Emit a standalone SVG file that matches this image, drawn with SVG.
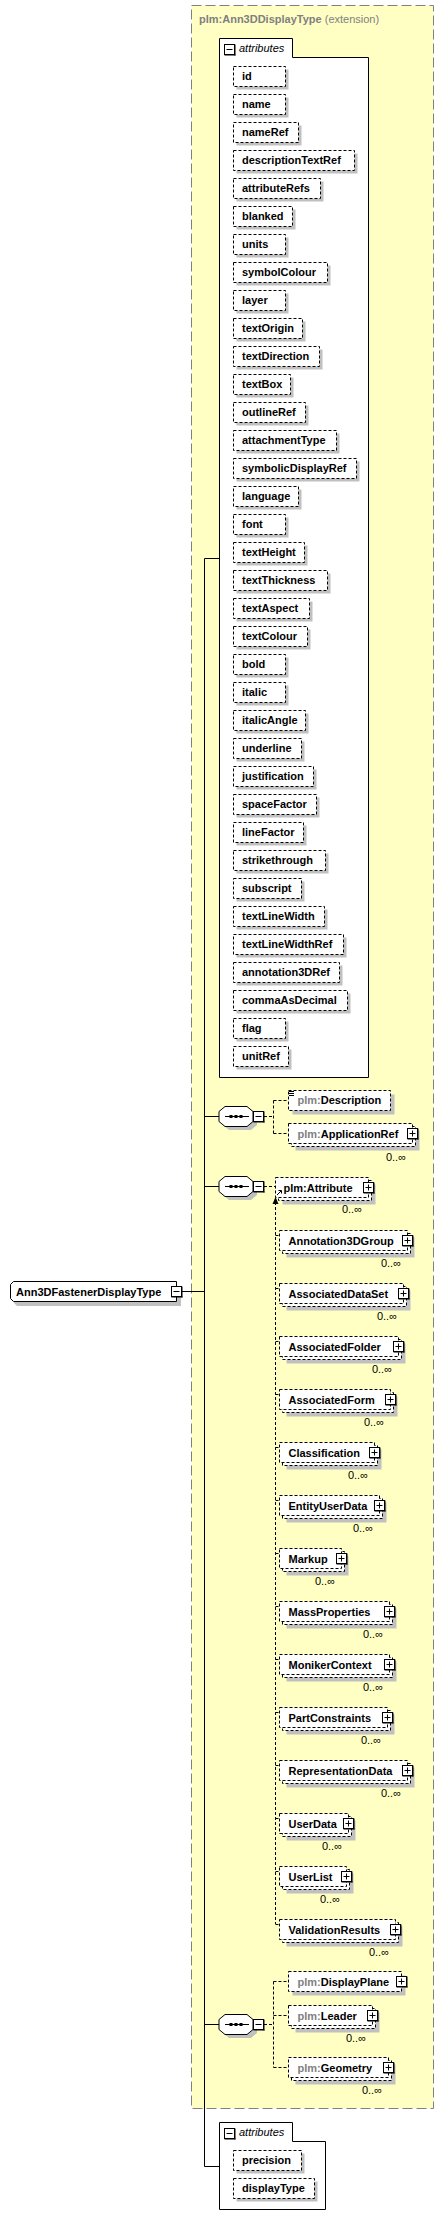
<svg xmlns="http://www.w3.org/2000/svg" width="444" height="2227" viewBox="0 0 444 2227">
<style>
text{font-family:"Liberation Sans",Arial,sans-serif;font-size:11px;fill:#000}
.b{font-weight:bold}
.gp{fill:#808080}
.ti{font-style:italic;font-weight:normal}
.occ{font-weight:normal}
.sh{fill:#c0c0c0;stroke:none}
.dbox{fill:#fff;stroke:#000;stroke-width:1;stroke-dasharray:3,2}
.sbox{fill:#fff;stroke:#000;stroke-width:1}
.ln{stroke:#000;stroke-width:1;fill:none}
.dl{stroke:#000;stroke-width:1;fill:none;stroke-dasharray:3,2}
.ext{fill:#ffffc4;stroke:#808080;stroke-width:1;stroke-dasharray:10,4}
</style>
<defs>
<g id="plus"><rect x="-5" y="-5" width="10" height="10" fill="#fff" stroke="#000"/><path d="M-5,5.5H6M5.5,-5V6" stroke="#000" stroke-width="1"/><path d="M-3,0H3M0,-3V3" stroke="#000"/></g>
<g id="minus"><rect x="-5" y="-5" width="10" height="10" fill="#fff" stroke="#000"/><path d="M-5,5.5H6M5.5,-5V6" stroke="#000" stroke-width="1"/><path d="M-3,0H3" stroke="#000"/></g>
</defs>

<rect id="ext-box" class="ext" x="191.5" y="5.5" width="242" height="2103"/>
<text x="199" y="23" class="b gp">plm:Ann3DDisplayType<tspan class="occ"> (extension)</tspan></text>

<g id="connectors">
<path class="ln" d="M182,1291.5H204.5M204.5,558.5V2166.5M204.5,558.5H219.5M204.5,1116.5H219M204.5,1186.5H219M204.5,2024.5H219M204.5,2166.5H219.5"/>
<path class="dl" d="M264,1116.5H273.5M273.5,1100.5V1133.5M273.5,1100.5H288.5M273.5,1133.5H288.5"/>
<path class="dl" d="M264,1186.5H275.5"/>
<path class="dl" d="M275.5,1202V1924"/>
<path d="M272.5,1204L275.5,1197L278.5,1204Z" fill="#000"/>
<path class="dl" d="M275.5,1235.5H279.5M275.5,1288.5H279.5M275.5,1341.5H279.5M275.5,1394.5H279.5M275.5,1447.5H279.5M275.5,1500.5H279.5M275.5,1553.5H279.5M275.5,1606.5H279.5M275.5,1659.5H279.5M275.5,1712.5H279.5M275.5,1765.5H279.5M275.5,1818.5H279.5M275.5,1871.5H279.5M275.5,1924.5H279.5"/>
<path class="dl" d="M264,2024.5H273.5M273.5,1981.5V2067.5M273.5,1981.5H288.5M273.5,2015.5H288.5M273.5,2067.5H288.5"/>
</g>

<g id="root">
<polygon class="sh" points="17,1286 181,1286 181,1306 17,1306 14,1303 14,1289"/>
<polygon class="sbox" points="13.5,1281.5 176.5,1281.5 176.5,1301.5 13.5,1301.5 10.5,1298.5 10.5,1284.5"/>
<text x="16" y="1295.5" class="b">Ann3DFastenerDisplayType</text>
<use href="#minus" x="176.5" y="1291.5"/>
</g>

<g id="attributes-top">
<path class="sbox" d="M219.5,38.5H292.5V57.5H368.5V1077.5H219.5Z"/>
<use href="#minus" x="229.5" y="49.5"/>
<text x="239" y="52" class="ti">attributes</text>
</g>

<g id="attr-list" class="b">
<g id="a-id"><rect class="sh" x="236.5" y="69.5" width="52" height="20"/><rect class="dbox" x="233.5" y="66.5" width="52" height="20"/><text x="242" y="80">id</text></g>
<g id="a-name"><rect class="sh" x="236.5" y="97.5" width="52" height="20"/><rect class="dbox" x="233.5" y="94.5" width="52" height="20"/><text x="242" y="108">name</text></g>
<g id="a-nameRef"><rect class="sh" x="236.5" y="125.5" width="65" height="20"/><rect class="dbox" x="233.5" y="122.5" width="65" height="20"/><text x="242" y="136">nameRef</text></g>
<g id="a-descriptionTextRef"><rect class="sh" x="236.5" y="153.5" width="121" height="20"/><rect class="dbox" x="233.5" y="150.5" width="121" height="20"/><text x="242" y="164">descriptionTextRef</text></g>
<g id="a-attributeRefs"><rect class="sh" x="236.5" y="181.5" width="87" height="20"/><rect class="dbox" x="233.5" y="178.5" width="87" height="20"/><text x="242" y="192">attributeRefs</text></g>
<g id="a-blanked"><rect class="sh" x="236.5" y="209.5" width="59" height="20"/><rect class="dbox" x="233.5" y="206.5" width="59" height="20"/><text x="242" y="220">blanked</text></g>
<g id="a-units"><rect class="sh" x="236.5" y="237.5" width="52" height="20"/><rect class="dbox" x="233.5" y="234.5" width="52" height="20"/><text x="242" y="248">units</text></g>
<g id="a-symbolColour"><rect class="sh" x="236.5" y="265.5" width="94" height="20"/><rect class="dbox" x="233.5" y="262.5" width="94" height="20"/><text x="242" y="276">symbolColour</text></g>
<g id="a-layer"><rect class="sh" x="236.5" y="293.5" width="52" height="20"/><rect class="dbox" x="233.5" y="290.5" width="52" height="20"/><text x="242" y="304">layer</text></g>
<g id="a-textOrigin"><rect class="sh" x="236.5" y="321.5" width="69" height="20"/><rect class="dbox" x="233.5" y="318.5" width="69" height="20"/><text x="242" y="332">textOrigin</text></g>
<g id="a-textDirection"><rect class="sh" x="236.5" y="349.5" width="86" height="20"/><rect class="dbox" x="233.5" y="346.5" width="86" height="20"/><text x="242" y="360">textDirection</text></g>
<g id="a-textBox"><rect class="sh" x="236.5" y="377.5" width="57" height="20"/><rect class="dbox" x="233.5" y="374.5" width="57" height="20"/><text x="242" y="388">textBox</text></g>
<g id="a-outlineRef"><rect class="sh" x="236.5" y="405.5" width="72" height="20"/><rect class="dbox" x="233.5" y="402.5" width="72" height="20"/><text x="242" y="416">outlineRef</text></g>
<g id="a-attachmentType"><rect class="sh" x="236.5" y="433.5" width="103" height="20"/><rect class="dbox" x="233.5" y="430.5" width="103" height="20"/><text x="242" y="444">attachmentType</text></g>
<g id="a-symbolicDisplayRef"><rect class="sh" x="236.5" y="461.5" width="123" height="20"/><rect class="dbox" x="233.5" y="458.5" width="123" height="20"/><text x="242" y="472">symbolicDisplayRef</text></g>
<g id="a-language"><rect class="sh" x="236.5" y="489.5" width="65" height="20"/><rect class="dbox" x="233.5" y="486.5" width="65" height="20"/><text x="242" y="500">language</text></g>
<g id="a-font"><rect class="sh" x="236.5" y="517.5" width="52" height="20"/><rect class="dbox" x="233.5" y="514.5" width="52" height="20"/><text x="242" y="528">font</text></g>
<g id="a-textHeight"><rect class="sh" x="236.5" y="545.5" width="71" height="20"/><rect class="dbox" x="233.5" y="542.5" width="71" height="20"/><text x="242" y="556">textHeight</text></g>
<g id="a-textThickness"><rect class="sh" x="236.5" y="573.5" width="94" height="20"/><rect class="dbox" x="233.5" y="570.5" width="94" height="20"/><text x="242" y="584">textThickness</text></g>
<g id="a-textAspect"><rect class="sh" x="236.5" y="601.5" width="76" height="20"/><rect class="dbox" x="233.5" y="598.5" width="76" height="20"/><text x="242" y="612">textAspect</text></g>
<g id="a-textColour"><rect class="sh" x="236.5" y="629.5" width="74" height="20"/><rect class="dbox" x="233.5" y="626.5" width="74" height="20"/><text x="242" y="640">textColour</text></g>
<g id="a-bold"><rect class="sh" x="236.5" y="657.5" width="52" height="20"/><rect class="dbox" x="233.5" y="654.5" width="52" height="20"/><text x="242" y="668">bold</text></g>
<g id="a-italic"><rect class="sh" x="236.5" y="685.5" width="52" height="20"/><rect class="dbox" x="233.5" y="682.5" width="52" height="20"/><text x="242" y="696">italic</text></g>
<g id="a-italicAngle"><rect class="sh" x="236.5" y="713.5" width="72" height="20"/><rect class="dbox" x="233.5" y="710.5" width="72" height="20"/><text x="242" y="724">italicAngle</text></g>
<g id="a-underline"><rect class="sh" x="236.5" y="741.5" width="68" height="20"/><rect class="dbox" x="233.5" y="738.5" width="68" height="20"/><text x="242" y="752">underline</text></g>
<g id="a-justification"><rect class="sh" x="236.5" y="769.5" width="80" height="20"/><rect class="dbox" x="233.5" y="766.5" width="80" height="20"/><text x="242" y="780">justification</text></g>
<g id="a-spaceFactor"><rect class="sh" x="236.5" y="797.5" width="83" height="20"/><rect class="dbox" x="233.5" y="794.5" width="83" height="20"/><text x="242" y="808">spaceFactor</text></g>
<g id="a-lineFactor"><rect class="sh" x="236.5" y="825.5" width="70" height="20"/><rect class="dbox" x="233.5" y="822.5" width="70" height="20"/><text x="242" y="836">lineFactor</text></g>
<g id="a-strikethrough"><rect class="sh" x="236.5" y="853.5" width="92" height="20"/><rect class="dbox" x="233.5" y="850.5" width="92" height="20"/><text x="242" y="864">strikethrough</text></g>
<g id="a-subscript"><rect class="sh" x="236.5" y="881.5" width="68" height="20"/><rect class="dbox" x="233.5" y="878.5" width="68" height="20"/><text x="242" y="892">subscript</text></g>
<g id="a-textLineWidth"><rect class="sh" x="236.5" y="909.5" width="91" height="20"/><rect class="dbox" x="233.5" y="906.5" width="91" height="20"/><text x="242" y="920">textLineWidth</text></g>
<g id="a-textLineWidthRef"><rect class="sh" x="236.5" y="937.5" width="110" height="20"/><rect class="dbox" x="233.5" y="934.5" width="110" height="20"/><text x="242" y="948">textLineWidthRef</text></g>
<g id="a-annotation3DRef"><rect class="sh" x="236.5" y="965.5" width="106" height="20"/><rect class="dbox" x="233.5" y="962.5" width="106" height="20"/><text x="242" y="976">annotation3DRef</text></g>
<g id="a-commaAsDecimal"><rect class="sh" x="236.5" y="993.5" width="114" height="20"/><rect class="dbox" x="233.5" y="990.5" width="114" height="20"/><text x="242" y="1004">commaAsDecimal</text></g>
<g id="a-flag"><rect class="sh" x="236.5" y="1021.5" width="52" height="20"/><rect class="dbox" x="233.5" y="1018.5" width="52" height="20"/><text x="242" y="1032">flag</text></g>
<g id="a-unitRef"><rect class="sh" x="236.5" y="1049.5" width="55" height="20"/><rect class="dbox" x="233.5" y="1046.5" width="55" height="20"/><text x="242" y="1060">unitRef</text></g>
</g>

<g id="seq1">
<polygon class="sh" points="229,1110 251,1110 257,1115 257,1125 251,1130 229,1130 223,1125 223,1115"/>
<polygon class="sbox" points="225,1106.5 247,1106.5 253,1111.5 253,1121.5 247,1126.5 225,1126.5 219,1121.5 219,1111.5"/>
<path class="ln" d="M225,1116.5H249"/><rect x="229.5" y="1115" width="3" height="3"/><rect x="234.5" y="1115" width="3" height="3"/><rect x="239.5" y="1115" width="3" height="3"/>
<use href="#minus" x="258.5" y="1116.5"/>
</g>
<g id="e-Description" class="b">
<rect class="sh" x="292.5" y="1094.5" width="102" height="20"/><rect class="dbox" x="288.5" y="1090.5" width="102" height="20"/>
<path class="ln" d="M289,1091.5H294M289,1093.5H294M289,1095.5H294"/>
<text x="297.5" y="1104"><tspan class="gp">plm:</tspan>Description</text>
</g>
<g id="e-ApplicationRef" class="b">
<rect class="sh" x="295.5" y="1130.5" width="124" height="20"/><rect class="dbox" x="291.5" y="1126.5" width="124" height="20"/><rect class="dbox" x="288.5" y="1123.5" width="124" height="20"/>
<text x="297.5" y="1137.5"><tspan class="gp">plm:</tspan>ApplicationRef</text>
<use href="#plus" x="412.5" y="1133.5"/>
<text x="406" y="1160.5" class="occ" text-anchor="end">0..∞</text>
</g>

<g id="seq2">
<polygon class="sh" points="229,1180 251,1180 257,1185 257,1195 251,1200 229,1200 223,1195 223,1185"/>
<polygon class="sbox" points="225,1176.5 247,1176.5 253,1181.5 253,1191.5 247,1196.5 225,1196.5 219,1191.5 219,1181.5"/>
<path class="ln" d="M225,1186.5H249"/><rect x="229.5" y="1185" width="3" height="3"/><rect x="234.5" y="1185" width="3" height="3"/><rect x="239.5" y="1185" width="3" height="3"/>
<use href="#minus" x="258.5" y="1186.5"/>
</g>
<g id="e-Attribute" class="b">
<rect class="sh" x="282.5" y="1184.5" width="93" height="20"/><rect class="dbox" x="278.5" y="1180.5" width="93" height="20"/><rect class="dbox" x="275.5" y="1177.5" width="93" height="20"/>
<path d="M277,1195L281,1191M278.5,1190.5H281.5V1193.5" stroke="#000" fill="none"/>
<text x="283.5" y="1191.5">plm:Attribute</text>
<use href="#plus" x="368.5" y="1187.5"/>
<text x="362" y="1213" class="occ" text-anchor="end">0..∞</text>
</g>

<g id="substitution-members" class="b">
<g id="m-Annotation3DGroup"><rect class="sh" x="286.5" y="1237.5" width="128" height="20"/><rect class="dbox" x="282.5" y="1233.5" width="128" height="20"/><rect class="dbox" x="279.5" y="1230.5" width="128" height="20"/><text x="288.5" y="1244.5">Annotation3DGroup</text><use href="#plus" x="407.5" y="1240.5"/><text x="401" y="1266.5" class="occ" text-anchor="end">0..∞</text></g>
<g id="m-AssociatedDataSet"><rect class="sh" x="286.5" y="1290.5" width="124" height="20"/><rect class="dbox" x="282.5" y="1286.5" width="124" height="20"/><rect class="dbox" x="279.5" y="1283.5" width="124" height="20"/><text x="288.5" y="1297.5">AssociatedDataSet</text><use href="#plus" x="403.5" y="1293.5"/><text x="397" y="1319.5" class="occ" text-anchor="end">0..∞</text></g>
<g id="m-AssociatedFolder"><rect class="sh" x="286.5" y="1343.5" width="119" height="20"/><rect class="dbox" x="282.5" y="1339.5" width="119" height="20"/><rect class="dbox" x="279.5" y="1336.5" width="119" height="20"/><text x="288.5" y="1350.5">AssociatedFolder</text><use href="#plus" x="398.5" y="1346.5"/><text x="392" y="1372.5" class="occ" text-anchor="end">0..∞</text></g>
<g id="m-AssociatedForm"><rect class="sh" x="286.5" y="1396.5" width="111" height="20"/><rect class="dbox" x="282.5" y="1392.5" width="111" height="20"/><rect class="dbox" x="279.5" y="1389.5" width="111" height="20"/><text x="288.5" y="1403.5">AssociatedForm</text><use href="#plus" x="390.5" y="1399.5"/><text x="384" y="1425.5" class="occ" text-anchor="end">0..∞</text></g>
<g id="m-Classification"><rect class="sh" x="286.5" y="1449.5" width="95" height="20"/><rect class="dbox" x="282.5" y="1445.5" width="95" height="20"/><rect class="dbox" x="279.5" y="1442.5" width="95" height="20"/><text x="288.5" y="1456.5">Classification</text><use href="#plus" x="374.5" y="1452.5"/><text x="368" y="1478.5" class="occ" text-anchor="end">0..∞</text></g>
<g id="m-EntityUserData"><rect class="sh" x="286.5" y="1502.5" width="100" height="20"/><rect class="dbox" x="282.5" y="1498.5" width="100" height="20"/><rect class="dbox" x="279.5" y="1495.5" width="100" height="20"/><text x="288.5" y="1509.5">EntityUserData</text><use href="#plus" x="379.5" y="1505.5"/><text x="373" y="1531.5" class="occ" text-anchor="end">0..∞</text></g>
<g id="m-Markup"><rect class="sh" x="286.5" y="1555.5" width="62" height="20"/><rect class="dbox" x="282.5" y="1551.5" width="62" height="20"/><rect class="dbox" x="279.5" y="1548.5" width="62" height="20"/><text x="288.5" y="1562.5">Markup</text><use href="#plus" x="341.5" y="1558.5"/><text x="335" y="1584.5" class="occ" text-anchor="end">0..∞</text></g>
<g id="m-MassProperties"><rect class="sh" x="286.5" y="1608.5" width="110" height="20"/><rect class="dbox" x="282.5" y="1604.5" width="110" height="20"/><rect class="dbox" x="279.5" y="1601.5" width="110" height="20"/><text x="288.5" y="1615.5">MassProperties</text><use href="#plus" x="389.5" y="1611.5"/><text x="383" y="1637.5" class="occ" text-anchor="end">0..∞</text></g>
<g id="m-MonikerContext"><rect class="sh" x="286.5" y="1661.5" width="110" height="20"/><rect class="dbox" x="282.5" y="1657.5" width="110" height="20"/><rect class="dbox" x="279.5" y="1654.5" width="110" height="20"/><text x="288.5" y="1668.5">MonikerContext</text><use href="#plus" x="389.5" y="1664.5"/><text x="383" y="1690.5" class="occ" text-anchor="end">0..∞</text></g>
<g id="m-PartConstraints"><rect class="sh" x="286.5" y="1714.5" width="108" height="20"/><rect class="dbox" x="282.5" y="1710.5" width="108" height="20"/><rect class="dbox" x="279.5" y="1707.5" width="108" height="20"/><text x="288.5" y="1721.5">PartConstraints</text><use href="#plus" x="387.5" y="1717.5"/><text x="381" y="1743.5" class="occ" text-anchor="end">0..∞</text></g>
<g id="m-RepresentationData"><rect class="sh" x="286.5" y="1767.5" width="128" height="20"/><rect class="dbox" x="282.5" y="1763.5" width="128" height="20"/><rect class="dbox" x="279.5" y="1760.5" width="128" height="20"/><text x="288.5" y="1774.5">RepresentationData</text><use href="#plus" x="407.5" y="1770.5"/><text x="401" y="1796.5" class="occ" text-anchor="end">0..∞</text></g>
<g id="m-UserData"><rect class="sh" x="286.5" y="1820.5" width="69" height="20"/><rect class="dbox" x="282.5" y="1816.5" width="69" height="20"/><rect class="dbox" x="279.5" y="1813.5" width="69" height="20"/><text x="288.5" y="1827.5">UserData</text><use href="#plus" x="348.5" y="1823.5"/><text x="342" y="1849.5" class="occ" text-anchor="end">0..∞</text></g>
<g id="m-UserList"><rect class="sh" x="286.5" y="1873.5" width="67" height="20"/><rect class="dbox" x="282.5" y="1869.5" width="67" height="20"/><rect class="dbox" x="279.5" y="1866.5" width="67" height="20"/><text x="288.5" y="1880.5">UserList</text><use href="#plus" x="346.5" y="1876.5"/><text x="340" y="1902.5" class="occ" text-anchor="end">0..∞</text></g>
<g id="m-ValidationResults"><rect class="sh" x="286.5" y="1926.5" width="116" height="20"/><rect class="dbox" x="282.5" y="1922.5" width="116" height="20"/><rect class="dbox" x="279.5" y="1919.5" width="116" height="20"/><text x="288.5" y="1933.5">ValidationResults</text><use href="#plus" x="395.5" y="1929.5"/><text x="389" y="1955.5" class="occ" text-anchor="end">0..∞</text></g>
</g>

<g id="seq3">
<polygon class="sh" points="229,2018 251,2018 257,2023 257,2033 251,2038 229,2038 223,2033 223,2023"/>
<polygon class="sbox" points="225,2014.5 247,2014.5 253,2019.5 253,2029.5 247,2034.5 225,2034.5 219,2029.5 219,2019.5"/>
<path class="ln" d="M225,2024.5H249"/><rect x="229.5" y="2023" width="3" height="3"/><rect x="234.5" y="2023" width="3" height="3"/><rect x="239.5" y="2023" width="3" height="3"/>
<use href="#minus" x="258.5" y="2024.5"/>
</g>
<g id="e-DisplayPlane" class="b">
<rect class="sh" x="292.5" y="1975.5" width="113" height="20"/><rect class="dbox" x="288.5" y="1971.5" width="113" height="20"/>
<text x="297.5" y="1985.5"><tspan class="gp">plm:</tspan>DisplayPlane</text>
<use href="#plus" x="401.5" y="1981.5"/>
</g>
<g id="e-Leader" class="b">
<rect class="sh" x="295.5" y="2012.5" width="84" height="20"/><rect class="dbox" x="291.5" y="2008.5" width="84" height="20"/><rect class="dbox" x="288.5" y="2005.5" width="84" height="20"/>
<text x="297.5" y="2019.5"><tspan class="gp">plm:</tspan>Leader</text>
<use href="#plus" x="372.5" y="2015.5"/>
<text x="366" y="2041.5" class="occ" text-anchor="end">0..∞</text>
</g>
<g id="e-Geometry" class="b">
<rect class="sh" x="295.5" y="2064.5" width="100" height="20"/><rect class="dbox" x="291.5" y="2060.5" width="100" height="20"/><rect class="dbox" x="288.5" y="2057.5" width="100" height="20"/>
<text x="297.5" y="2071.5"><tspan class="gp">plm:</tspan>Geometry</text>
<use href="#plus" x="388.5" y="2067.5"/>
<text x="382" y="2093.5" class="occ" text-anchor="end">0..∞</text>
</g>

<g id="attributes-bottom">
<path class="sbox" d="M219.5,2122.5H292.5V2141.5H325.5V2209.5H219.5Z"/>
<use href="#minus" x="229.5" y="2133.5"/>
<text x="239" y="2136" class="ti">attributes</text>
<g id="a-precision" class="b"><rect class="sh" x="236.5" y="2153.5" width="68" height="20"/><rect class="dbox" x="233.5" y="2150.5" width="68" height="20"/><text x="242" y="2164">precision</text></g>
<g id="a-displayType" class="b"><rect class="sh" x="236.5" y="2181.5" width="81" height="20"/><rect class="dbox" x="233.5" y="2178.5" width="81" height="20"/><text x="242" y="2192">displayType</text></g>
</g>
</svg>
